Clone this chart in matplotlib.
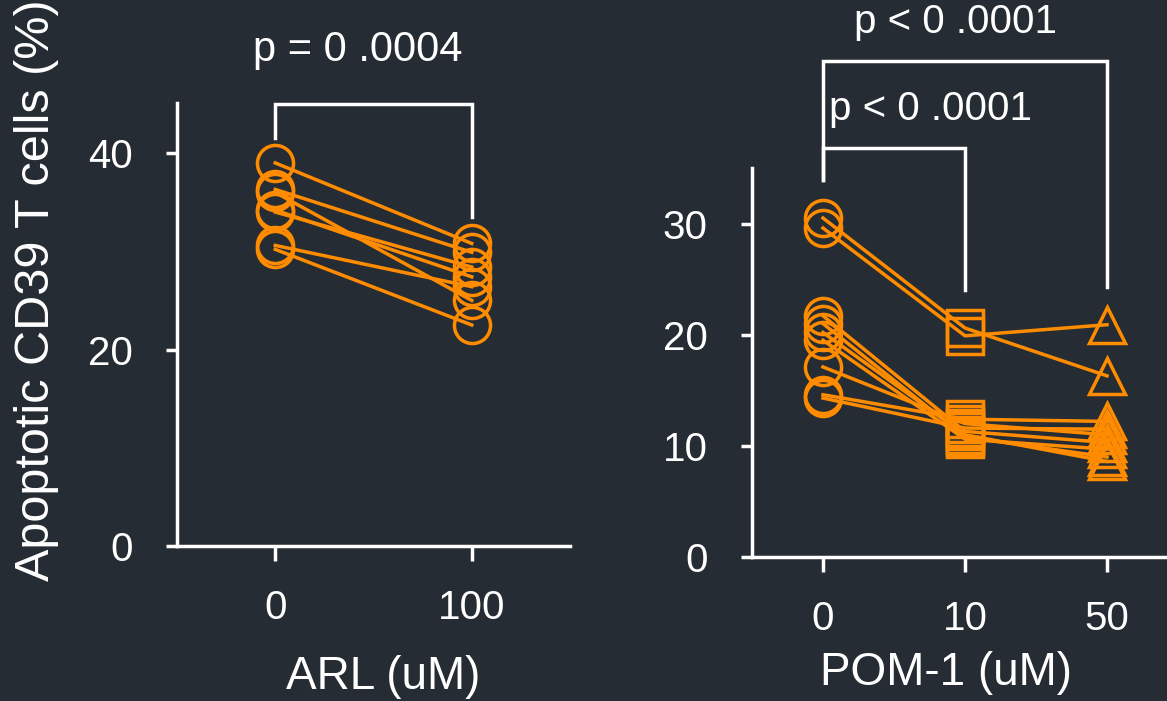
import matplotlib.pyplot as plt
import numpy as np

plt.rcParams['font.family'] = ['Liberation Sans', 'DejaVu Sans']

bg = '#262c33'
orange = '#ff8c00'
fg = 'white'

# ARL panel: paired values per donor (0 uM, 100 uM)
arl_labels = ['0', '100']
arl_0 = [39.0, 36.3, 36.0, 34.2, 34.0, 30.6, 30.2]
arl_100 = [30.8, 29.9, 25.0, 27.4, 28.4, 26.4, 22.5]

# POM-1 panel: paired values per donor (0, 10, 50 uM)
pom_labels = ['0', '10', '50']
pom_0 = [30.5, 29.6, 21.7, 21.0, 20.2, 19.5, 17.1, 14.6, 14.3]
pom_10 = [20.6, 19.9, 11.3, 10.8, 11.0, 10.6, 12.0, 12.4, 11.6]
pom_50 = [16.3, 20.9, 10.3, 9.0, 8.6, 9.7, 11.0, 12.2, 11.5]

fig = plt.figure(figsize=(11.67, 7.01), dpi=100, facecolor=bg)

lw = 2.5
ms = 26


def style_axes(ax):
    ax.set_facecolor(bg)
    for s in ['top', 'right']:
        ax.spines[s].set_visible(False)
    for s in ['left', 'bottom']:
        ax.spines[s].set_color(fg)
        ax.spines[s].set_linewidth(lw)
    ax.tick_params(axis='both', colors=fg, width=lw, labelsize=29)
    ax.tick_params(axis='y', length=8, pad=24)
    ax.tick_params(axis='x', length=11, pad=20)


def bracket(ax, x1, x2, y_top, y1, y2):
    ax.plot([x1, x1, x2, x2], [y1, y_top, y_top, y2], color=fg, lw=lw,
            clip_on=False, solid_joinstyle='miter')


# left panel
ax1 = fig.add_axes([177 / 1167, 1 - 546 / 701, 393 / 1167, 443 / 701])
style_axes(ax1)
x_arl = np.arange(len(arl_labels))
for a, b in zip(arl_0, arl_100):
    ax1.plot(x_arl, [a, b], color=orange, lw=lw, zorder=3)
ax1.plot(np.zeros(len(arl_0)), arl_0, 'o', ms=ms, mfc='none', mec=orange,
         mew=lw, zorder=2, clip_on=False)
ax1.plot(np.ones(len(arl_100)), arl_100, 'o', ms=ms, mfc='none', mec=orange,
         mew=lw, zorder=2, clip_on=False)
ax1.set_xlim(-0.5, 1.5)
ax1.set_ylim(0, 45.1)
ax1.set_yticks([0, 20, 40])
ax1.set_xticks(x_arl)
ax1.set_xticklabels(arl_labels)
ax1.set_xlabel('ARL (uM)', color=fg, fontsize=33, va='center')
ax1.xaxis.set_label_coords(0.524, -0.296)
bracket(ax1, 0, 1, 45.0, 41.5, 33.5)
ax1.text(0.42, 50.5, 'p = 0 .0004', color=fg, fontsize=30, ha='center',
         va='center')

# right panel
ax2 = fig.add_axes([752 / 1167, 1 - 557 / 701, 426 / 1167, 389 / 701])
style_axes(ax2)
x_pom = np.arange(len(pom_labels))
for a, b, c in zip(pom_0, pom_10, pom_50):
    ax2.plot(x_pom, [a, b, c], color=orange, lw=lw, zorder=3)
for xi, vals, m in zip(x_pom, [pom_0, pom_10, pom_50], ['o', 's', '^']):
    ax2.plot(np.full(len(vals), xi), vals, m, ms=ms, mfc='none', mec=orange,
             mew=lw, zorder=2, clip_on=False)
ax2.set_xlim(-0.5, 2.5)
ax2.set_ylim(0, 35)
ax2.set_yticks([0, 10, 20, 30])
ax2.set_xticks(x_pom)
ax2.set_xticklabels(pom_labels)
ax2.set_xlabel('POM-1 (uM)', color=fg, fontsize=33, va='center')
ax2.xaxis.set_label_coords((946 - 752) / 426, -0.298)
bracket(ax2, 0, 2, 44.65, 33.9, 24.3)
bracket(ax2, 0, 1, 36.8, 33.9, 24.0)
ax2.text(0.76, 40.3, 'p < 0 .0001', color=fg, fontsize=29, ha='center',
         va='center')
ax2.text(0.93, 48.1, 'p < 0 .0001', color=fg, fontsize=29, ha='center',
         va='center')

fig.text(37 / 1167, 1 - 290 / 701, 'Apoptotic CD39 T cells (%)', color=fg,
         fontsize=35, rotation=90, ha='center', va='center')

fig.savefig('out.png', dpi=100, facecolor=bg)
